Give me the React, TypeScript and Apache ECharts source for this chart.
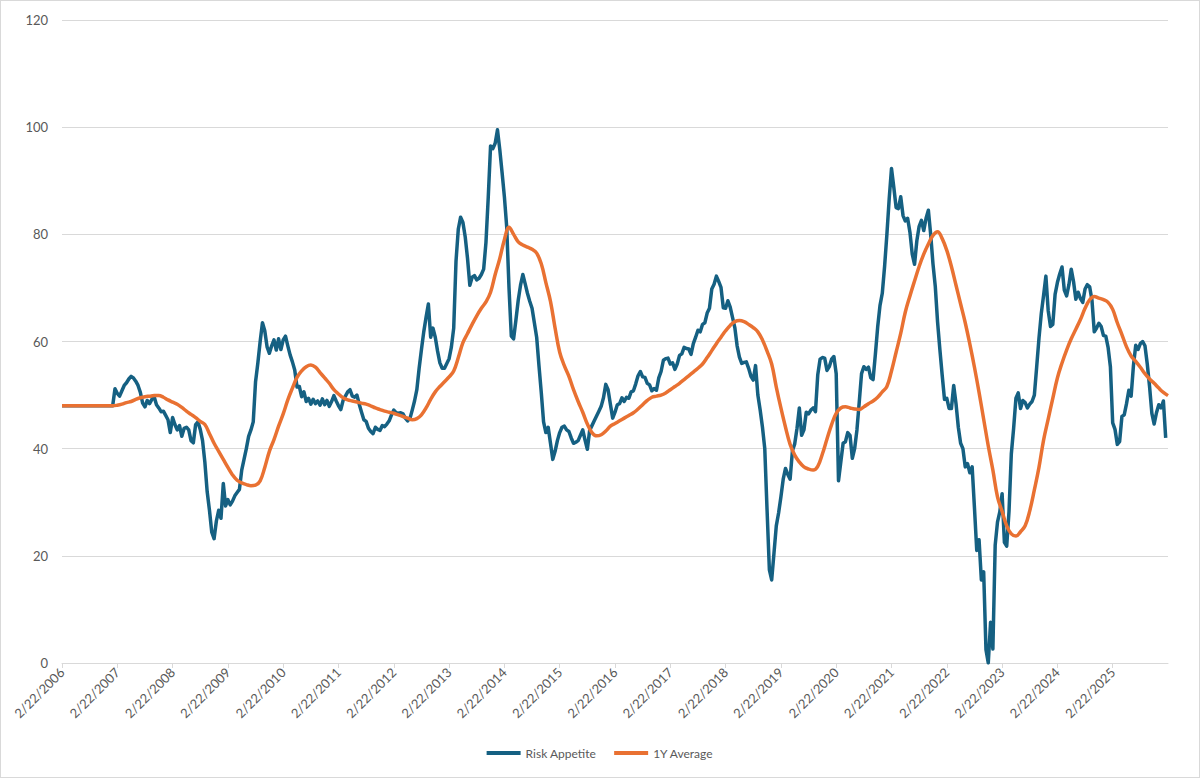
import React, { useEffect, useRef } from "react";
import * as echarts from "echarts";

// Axis ticks: yearly labels from 2/22/2006
const startYear = 2006;
const yearTickLabelPrefix = "2/22/";
const yTicks = [0, 20, 40, 60, 80, 100, 120];

// Risk Appetite: two readings per month (half-month steps) from Feb 2006
const riskAppetite: number[] = [
  // 2006
  48, 48, 48, 48, 48, 48, 48, 48, 48, 48, 48, 48, 48, 48, 48, 48, 48, 48, 48, 48, 48, 48, 48, 51.2,
  // 2007
  50.3, 49.8, 50.8, 51.8, 52.3, 53, 53.5, 53.2, 52.6, 51.8, 50.5, 48.5, 47.8, 49, 48.4, 49.2, 49.7, 48.2, 47.6, 46.9, 47, 46.2, 45.4, 43,
  // 2008
  45.8, 44.5, 43.5, 44.3, 42.3, 43.8, 44, 43.5, 41.5, 41.1, 44.5, 45, 43.6, 41.5, 37.5, 32, 28.5, 24.4, 23.2, 26.5, 28.5, 27, 33.5, 29.3,
  // 2009
  30.5, 29.5, 30.2, 31.2, 31.8, 32.4, 36, 38, 40, 42.3, 43.5, 45, 52.5, 56, 60, 63.5, 62, 59, 57.8, 59.2, 60.3, 58.4, 60.5, 58.5,
  // 2010
  60.3, 61, 59.2, 57.5, 56.2, 54.7, 51.5, 51.6, 49.7, 50.6, 48.8, 49.4, 48.3, 49.2, 48.4, 48.9, 48.1, 49.3, 48.2, 49, 47.9, 48.8, 49.9, 48.9,
  // 2011
  48, 47.3, 49, 49.8, 50.6, 51, 49.8, 49.6, 50, 48.3, 46.8, 45.4, 45.1, 43.8, 43.2, 42.8, 44, 43.6, 43.4, 44.3, 44.1, 44.6, 45.2, 46.3,
  // 2012
  47.2, 46.7, 46.6, 46.7, 46.5, 45.7, 45.2, 45.6, 47.2, 48.9, 51, 55, 58.5, 61.8, 64.5, 67, 60.8, 62.5, 60.8, 58.2, 56, 55, 55, 55.9,
  // 2013
  56.8, 59, 62.5, 75, 81, 83.2, 82.2, 79.5, 75.5, 70.5, 72, 72.3, 71.5, 71.8, 72.5, 73.5, 78.5, 87, 96.5, 96, 97, 99.5, 95.8, 91.5,
  // 2014
  87, 81.4, 70, 61, 60.5, 64, 67.7, 70.5, 72.5, 70.8, 69, 67.5, 66.2, 63.5, 60.8, 55.5, 50.5, 45, 43, 44, 41, 38, 39.5, 41.5,
  // 2015
  43, 44, 44.2, 43.5, 43.2, 42, 41, 41.2, 41.5, 42.5, 43.5, 41.6, 39.9, 43.4, 44.3, 45.2, 46.1, 47, 47.9, 49.5, 52, 51, 48.3, 45.7,
  // 2016
  46.8, 48.2, 48.4, 49.5, 48.8, 49.6, 49.4, 50.6, 50.8, 52.1, 53.6, 54.4, 53.4, 53.3, 52.2, 51.9, 50.8, 51.2, 50.9, 53.2, 54.4, 56.5, 56.8, 56.9,
  // 2017
  55.8, 56, 54.8, 55.8, 57.4, 57.7, 58.9, 58.7, 58.6, 57.6, 59.6, 60.8, 62.1, 61.8, 63.2, 63.5, 65.3, 66.2, 69.8, 70.7, 72.2, 71.2, 70.1, 66.3,
  // 2018
  66.2, 67.6, 66.4, 64.5, 62.6, 59.2, 57.1, 55.9, 56.1, 56.2, 55, 53.5, 52.8, 55.5, 50, 47.2, 44, 40, 28.5, 17.4, 15.5, 20.5, 25.6, 28,
  // 2019
  31, 34.3, 36.3, 35.2, 34.3, 39.6, 40.9, 43.8, 47.6, 42.5, 43.5, 46.8, 46.5, 47.2, 47.6, 46.9, 53.8, 56.7, 57, 56.9, 54.6, 55.3, 56.7, 57.2,
  // 2020
  54, 34, 37.5, 41, 41.3, 43, 42.5, 38.2, 40, 43.5, 48.7, 54, 55.3, 54.8, 55.2, 53.2, 52.9, 57.6, 62.7, 66.7, 69, 74, 80, 86.6,
  // 2021
  92.3, 88.8, 85, 84.8, 87, 83.5, 82.5, 83, 80.4, 76.3, 74.4, 78.8, 81.5, 82.6, 80.7, 83, 84.5, 80, 74.5, 70.3, 63.6, 58.5, 53.7, 49.2,
  // 2022
  49.4, 47.5, 47.5, 51.8, 48.4, 44, 41, 40, 36.6, 37.2, 35.5, 36.6, 29, 21, 23, 15.5, 17, 2.5, 0, 7.6, 2.6, 22, 26.3, 28.2,
  // 2023
  31.6, 22.5, 21.8, 28.3, 39, 43.8, 49.4, 50.4, 47.5, 49, 48.6, 47.6, 48.3, 48.8, 50, 55.2, 60.6, 65.2, 68.6, 72.2, 65.8, 62.8, 63.2, 68.8,
  // 2024
  71, 72.6, 73.9, 69.6, 68.5, 70.6, 73.5, 71.2, 67.9, 69.2, 68, 67.3, 69.8, 70.6, 70.2, 67.7, 61.8, 62.5, 63.4, 62.8, 61.1, 61, 58.9, 55.3,
  // 2025
  44.8, 43.6, 40.8, 41.3, 46, 46.3, 48.4, 50.9, 49.8, 55.5, 59.3, 58.5, 59.6, 60, 59.2, 55.8, 51.6, 46.6, 44.6, 46.7, 48.2, 47.6, 48.9, 42,
];
const riskStepsPerYear = 24;

// 1Y Average: monthly readings from Feb 2006
const oneYearAverage: number[] = [
  // 2006
  48, 48, 48, 48, 48, 48, 48, 48, 48, 48, 48, 48,
  // 2007
  48.1, 48.3, 48.6, 48.8, 49.2, 49.5, 49.7, 49.8, 49.9, 49.9, 49.6, 49.1,
  // 2008
  48.7, 48.3, 47.7, 47, 46.4, 45.8, 45.1, 44.5, 42.8, 41, 39.5, 38,
  // 2009
  36.5, 35.1, 34.1, 33.6, 33.3, 33.1, 33.2, 34, 36.5, 39.5, 41.7, 44.2,
  // 2010
  46.5, 49.1, 51.3, 53.3, 54.5, 55.3, 55.6, 55.2, 54.2, 53.2, 52.2, 51,
  // 2011
  50.2, 49.5, 49.1, 48.9, 48.7, 48.5, 48.3, 48, 47.6, 47.3, 47, 46.8,
  // 2012
  46.6, 46.3, 46, 45.7, 45.4, 45.6, 46.3, 47.6, 49.2, 50.6, 51.6, 52.5,
  // 2013
  53.4, 54.5, 57, 59.8, 61.5, 63.2, 64.8, 66.2, 67.4, 69.2, 72.5, 75.5,
  // 2014
  79, 81.3, 80, 78.6, 78, 77.6, 77.2, 76.5, 74.5, 71, 67.5, 62.5,
  // 2015
  58, 55.5, 53.5, 51, 48.8, 46.8, 44.6, 43, 42.4, 42.6, 43.3, 44.2,
  // 2016
  44.7, 45.2, 45.7, 46.2, 46.7, 47.4, 48.2, 49, 49.6, 49.8, 50, 50.4,
  // 2017
  51, 51.6, 52.2, 52.9, 53.6, 54.3, 55, 55.8, 57, 58.3, 59.6, 60.8,
  // 2018
  62, 63, 63.7, 63.9, 63.7, 63.2, 62.6, 61.8, 60.3, 58.2, 55.8, 51.5,
  // 2019
  47.6, 44, 40.8, 38.8, 37.5, 36.6, 36.2, 36, 36.7, 39, 41.8, 44.5,
  // 2020
  46.6, 47.6, 47.8, 47.6, 47.4, 47.3, 47.8, 48.4, 48.9, 49.6, 50.6, 51.6,
  // 2021
  54.5, 58, 61.5, 65.5, 68.5, 71.3, 74, 76.3, 78.2, 79.8, 80.5, 79.2,
  // 2022
  77, 74, 70.5, 67, 63.5, 59.5, 55.2, 50.5, 45.5, 40.5, 36, 31,
  // 2023
  28.3, 25.6, 24.1, 23.7, 24.5, 25.6, 28.4, 32.3, 36.5, 41.6, 45.5, 49.4,
  // 2024
  53.2, 56, 58.4, 60.5, 62.3, 64.1, 66.2, 67.8, 68.4, 68.1, 67.8, 67.3,
  // 2025
  66, 63.5, 61.3, 59, 57.3, 56.3, 55.2, 54, 53, 52.2, 51.3, 50.5,
  // 2026
  49.9,
];
const avgStepsPerYear = 12;

const seriesNames = ["Risk Appetite", "1Y Average"];
const yearsSpan = 20;

export default function App() {
  const ref = useRef<HTMLDivElement>(null);

  useEffect(() => {
    if (!ref.current) return;
    const chart = echarts.init(ref.current, undefined, { renderer: "svg" });
    const font = "Lato, 'Liberation Sans', Arial, sans-serif";
    const textColor = "#595959";
    const gridColor = "#d9d9d9";

    const riskData = riskAppetite.map((v, i) => [i / riskStepsPerYear, v]);
    const avgData = oneYearAverage.map((v, i) => [i / avgStepsPerYear, v]);

    chart.setOption({
      animation: false,
      backgroundColor: "#ffffff",
      textStyle: { fontFamily: font },
      grid: { left: 61, right: 31, top: 19, bottom: 114, containLabel: false },
      legend: {
        data: seriesNames,
        left: "center",
        top: 741,
        icon: "rect",
        itemWidth: 34,
        itemHeight: 4,
        itemGap: 18,
        textStyle: { color: textColor, fontSize: 12, fontFamily: font },
      },
      xAxis: {
        type: "value",
        min: 0,
        max: yearsSpan,
        interval: 1,
        axisLine: { show: true, lineStyle: { color: gridColor, width: 1 } },
        axisTick: { show: true, length: 5, lineStyle: { color: gridColor } },
        splitLine: { show: false },
        axisLabel: {
          rotate: 45,
          color: textColor,
          fontSize: 13,
          fontFamily: font,
          margin: 7,
          showMaxLabel: false,
          formatter: (v: number) =>
            Number.isInteger(v) ? yearTickLabelPrefix + (startYear + v) : "",
        },
      },
      yAxis: {
        type: "value",
        min: yTicks[0],
        max: yTicks[yTicks.length - 1],
        interval: yTicks[1] - yTicks[0],
        axisLine: { show: false },
        axisTick: { show: false },
        splitLine: { show: true, lineStyle: { color: gridColor, width: 1 } },
        axisLabel: { color: textColor, fontSize: 13, fontFamily: font, margin: 14 },
      },
      series: [
        {
          name: seriesNames[0],
          type: "line",
          data: riskData,
          showSymbol: false,
          symbol: "none",
          lineStyle: { color: "#156082", width: 3.5, join: "round" },
          itemStyle: { color: "#156082" },
          z: 2,
        },
        {
          name: seriesNames[1],
          type: "line",
          data: avgData,
          showSymbol: false,
          symbol: "none",
          smooth: 0.4,
          lineStyle: { color: "#E97132", width: 3.5 },
          itemStyle: { color: "#E97132" },
          z: 3,
        },
      ],
    });

    return () => chart.dispose();
  }, []);

  return (
    <div
      style={{
        position: "fixed",
        left: 0,
        top: 0,
        width: 1200,
        height: 778,
        boxSizing: "border-box",
        border: "1px solid #d9d9d9",
        background: "#fff",
      }}
    >
      <div ref={ref} style={{ width: 1198, height: 776 }} />
    </div>
  );
}
